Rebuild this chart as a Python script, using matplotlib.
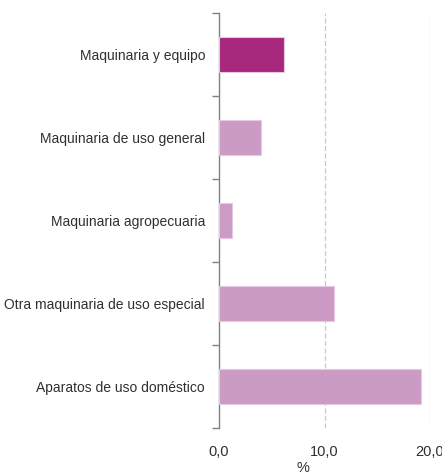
import numpy as np
import matplotlib
matplotlib.use("Agg")
import matplotlib.pyplot as plt

# data (top to bottom as in the chart)
categories = ["Maquinaria y equipo",
              "Maquinaria de uso general",
              "Maquinaria agropecuaria",
              "Otra maquinaria de uso especial",
              "Aparatos de uso doméstico"]
values = [6.2, 4.0, 1.2, 10.9, 19.1]
highlight = [True, False, False, False, False]
xticks = [0, 10, 20]
xtick_labels = ["0,0", "10,0", "20,0"]

plt.rcParams['font.family'] = ['Liberation Sans', 'DejaVu Sans']
text_col = "#303030"

fig = plt.figure(figsize=(4.42, 4.73), dpi=100)
ax = fig.add_axes([219/442, 1 - 428/473, (430 - 219)/442, (428 - 13)/473])

pos = np.arange(len(categories))
cols = ["#A8287E" if h else "#CC9BC5" for h in highlight]
ax.barh(pos, values, height=0.41, color=cols, edgecolor="#E6C8E0", linewidth=0.8, zorder=3)

ax.set_xlim(0, 20)
ax.set_ylim(len(categories) - 0.5, -0.5)

ax.set_xticks(xticks)
ax.set_xticklabels(xtick_labels, fontsize=10.5, color=text_col)
ax.tick_params(axis="x", length=0, pad=12)
for x in xticks[1:]:
    ax.axvline(x, color="#C8C8C8", linestyle=(0, (4, 2)), linewidth=0.9, zorder=1)

ax.set_yticks(pos)
ax.set_yticklabels(categories, fontsize=10, color=text_col)
ax.set_yticks(np.arange(len(categories) + 1) - 0.5, minor=True)
ax.tick_params(axis="y", which="major", length=0, pad=10)
ax.tick_params(axis="y", which="minor", length=5, color="#808080", width=1.0)

for s in ["top", "right", "bottom"]:
    ax.spines[s].set_visible(False)
ax.spines["left"].set_color("#808080")
ax.spines["left"].set_linewidth(1.0)

ax.set_xlabel("%", fontsize=10.5, color=text_col)
ax.xaxis.set_label_coords((303 - 219)/(430 - 219), -0.08)

fig.savefig("out.png", dpi=100)
